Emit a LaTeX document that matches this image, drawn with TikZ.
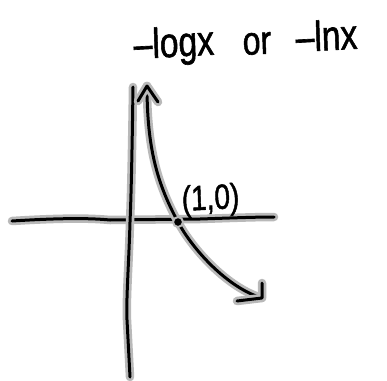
\documentclass[tikz,border=0pt]{standalone}
\usepackage{fontspec}
\setmainfont{Liberation Sans}
\newfontfamily\handfont{Liberation Sans}[FakeBold=1.5]
\begin{document}
\begin{tikzpicture}[x=1pt,y=-1pt,
  sketch/.style={draw=black, line width=3pt, line cap=round, line join=round,
    preaction={draw=gray!55, line width=8.5pt, line cap=round, line join=round}},
  hand/.style={inner sep=0pt, anchor=base west, xscale=0.8, rotate=2.5,
    font=\fontsize{#1}{#1}\handfont, text=black}]
\useasboundingbox[fill=white] (0,0) rectangle (387,380);
% axes
\coordinate (xl) at (12,221);
\coordinate (xr) at (274,217);
\coordinate (yt) at (133,87);
\coordinate (yb) at (130,377);
\draw[sketch] (xl) .. controls (60,218) and (90,218) .. (110,220)
  -- (200,219) .. controls (230,218) and (255,217) .. (xr);
\draw[sketch] (yt) .. controls (132,160) and (131,200) .. (130,222)
  .. controls (129,260) and (126,300) .. (127,320) -- (yb);
% curve
\coordinate (ctop) at (147,86);
\coordinate (cend) at (262,298);
\coordinate (c1) at (178,222);
\draw[sketch] (ctop) .. controls (147,150) and (158,185) .. (c1)
  .. controls (193,250) and (228,288) .. (cend);
\draw[sketch] (138,101) -- (ctop) -- (158,102);
\draw[sketch] (237,301) -- (cend) -- (262,283);
% point (1,0)
\node[circle, fill=black, draw=gray!55, line width=2pt, minimum size=10pt, inner sep=0pt] (p) at (c1) {};
\node[hand=35] (lbl) at (182,211) {(1,0)};
% title
\node[hand=42] (t1) at (134,59) {–logx};
\node[hand=40] (t2) at (243,55) {or};
\node[hand=42] (t3) at (296,52) {–lnx};
\end{tikzpicture}
\end{document}
